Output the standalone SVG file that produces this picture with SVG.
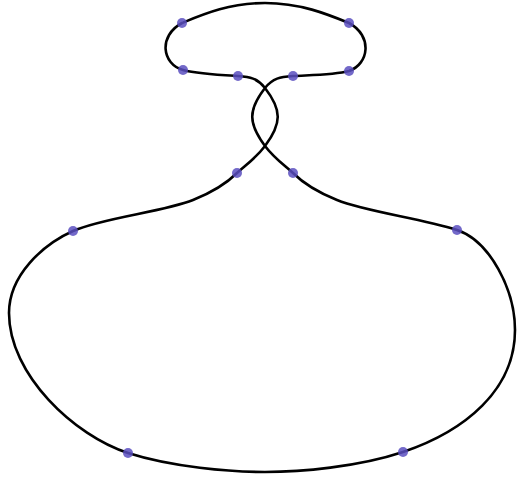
<svg xmlns="http://www.w3.org/2000/svg" width="517" height="483" viewBox="0 0 517 483">
<style>
.curve{fill:none;stroke:#000;stroke-width:2.6;stroke-linejoin:round;stroke-linecap:round}
.pt{fill:#5a4fbf;fill-opacity:0.85}
</style>
<rect width="517" height="483" fill="#fff"/>
<g id="connectors">
<path class="curve" d="M237,173 C247,164 256,158 265,146 C282,123 282,110 265,88 C257,78 250,77 238,76 C220,75 198,74 183,70 C162,64 158,36 182,23 C204,14 230,3 265,3 C300,3 327,14 349,23 C373,36 369,64 349,71 C334,75 311,75 293,76 C280,77 273,78 265,88 C248,110 248,123 265,146 C274,158 283,164 293,173 C305,185 322,194 337,200 C367,212 420,218 457,230 C490,241 515,290 515,330 C515,390 465,431 403,452 C358,467 300,472 265,472 C230,472 172,467 128,453 C75,436 9,375 9,313 C9,275 43,244.5 73,231 C103,217.5 163,212 193,200 C208,194 225,185 237,173 Z"/>
</g>
<g id="p1"><circle class="pt" cx="182" cy="23" r="5"/></g>
<g id="p2"><circle class="pt" cx="349" cy="23" r="5"/></g>
<g id="p3"><circle class="pt" cx="183" cy="70" r="5"/></g>
<g id="p4"><circle class="pt" cx="238" cy="76" r="5"/></g>
<g id="p5"><circle class="pt" cx="293" cy="76" r="5"/></g>
<g id="p6"><circle class="pt" cx="349" cy="71" r="5"/></g>
<g id="p7"><circle class="pt" cx="237" cy="173" r="5"/></g>
<g id="p8"><circle class="pt" cx="293" cy="173" r="5"/></g>
<g id="p9"><circle class="pt" cx="73" cy="231" r="5"/></g>
<g id="p10"><circle class="pt" cx="457" cy="230" r="5"/></g>
<g id="p11"><circle class="pt" cx="128" cy="453" r="5"/></g>
<g id="p12"><circle class="pt" cx="403" cy="452" r="5"/></g>
</svg>
